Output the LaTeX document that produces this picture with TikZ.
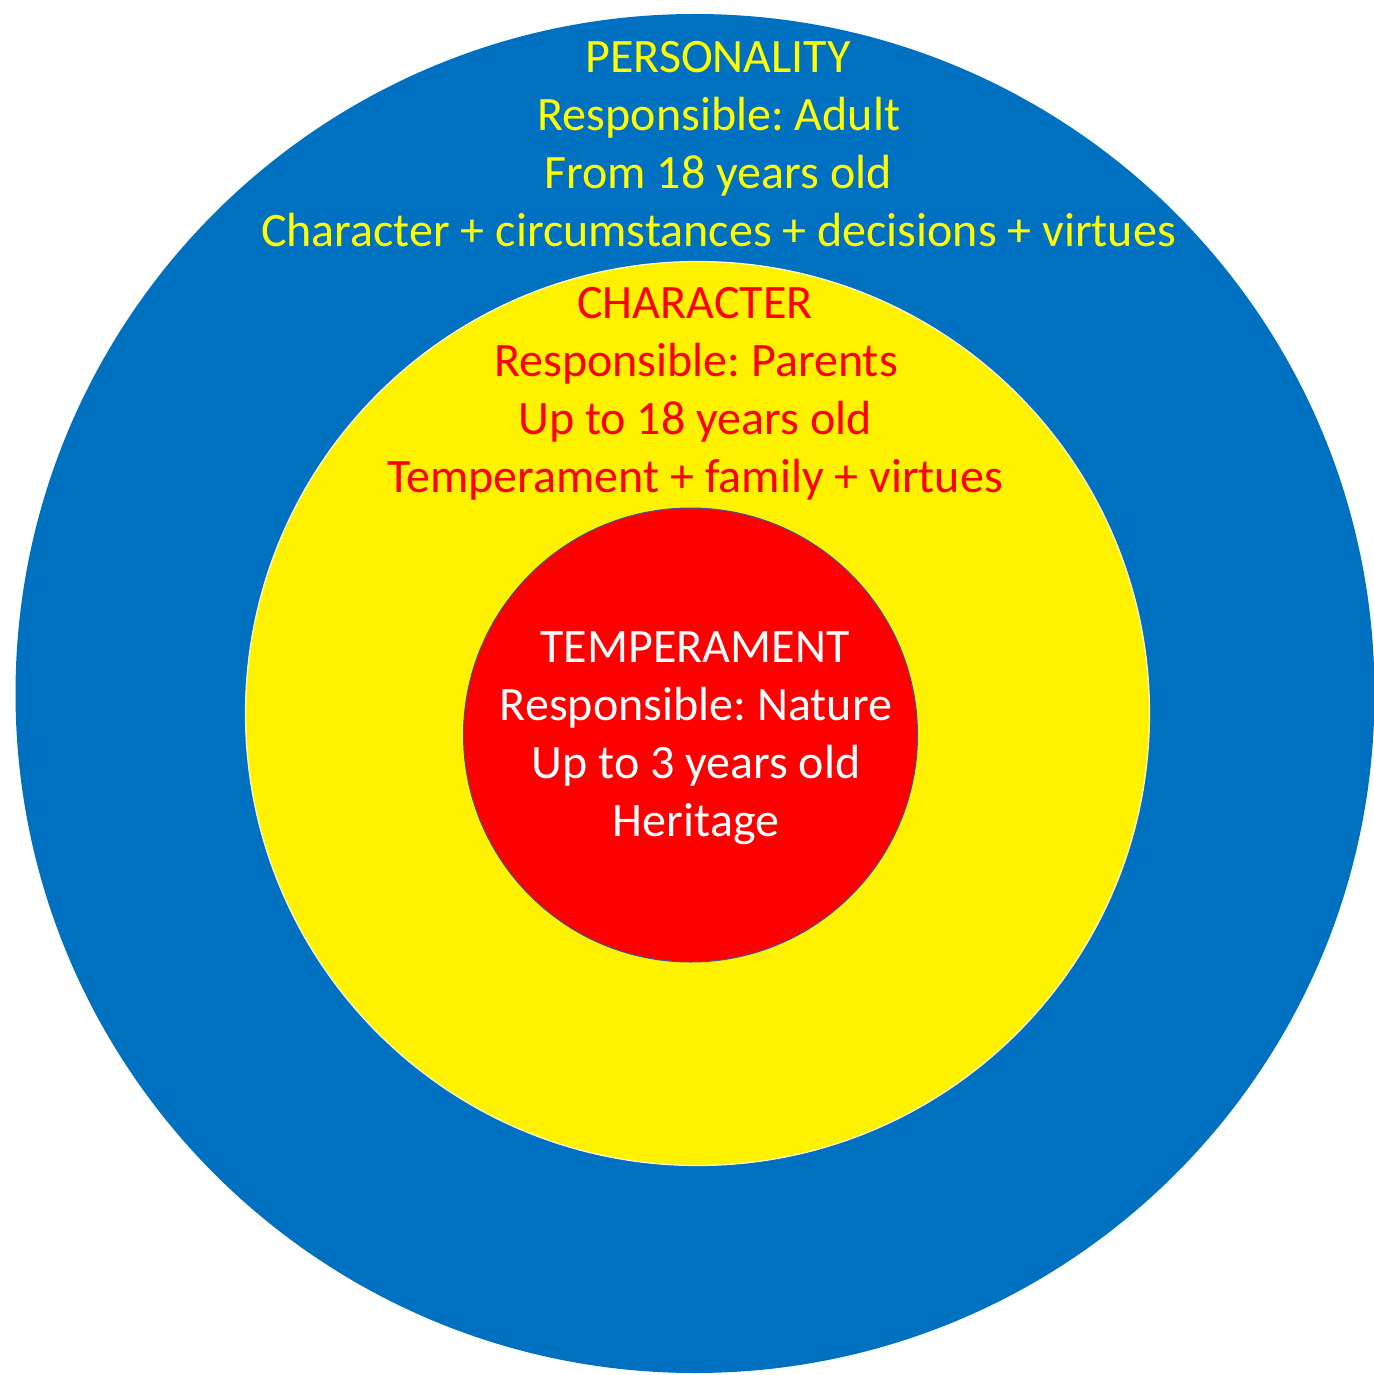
\documentclass[tikz,border=0pt]{standalone}
\usepackage{fontspec}
\setmainfont{Carlito}
\usepackage{tikz}
\definecolor{ringblue}{RGB}{0,112,192}
\definecolor{ringyellow}{RGB}{255,242,0}
\definecolor{ringred}{RGB}{255,0,0}
\definecolor{edgeblue}{RGB}{68,84,150}
\definecolor{textyellow}{RGB}{255,255,0}
\frenchspacing
\tikzset{
  lbl/.style={anchor=base,inner sep=0pt,font=\fontsize{24}{29}\selectfont},
}

\begin{document}
\begin{tikzpicture}[x=0.5pt,y=0.5pt,yscale=-1,xscale=1]
      \useasboundingbox (0,0) rectangle (1374,1375);
      % rings
      \fill [ringblue]   (695,693.5) circle (679.5);
      \draw [fill=ringyellow,draw=white!85!ringyellow,line width=0.6pt] (697.5,713.5) circle (452);
      \draw [fill=ringred,draw=edgeblue,line width=0.5pt] (690.5,735) circle (227);
      % personality
      \node (pers1) at (718,73)  [lbl,textyellow] {PERSONALITY};
      \node (pers2) at (719,131) [lbl,textyellow] {Responsible: Adult};
      \node (pers3) at (718,189) [lbl,textyellow] {From 18 years old};
      \node (pers4) at (718.5,247) [lbl,textyellow] {Character + circumstances + decisions + virtues};
      % character
      \node (char1) at (695,318) [lbl,ringred] {CHARACTER};
      \node (char2) at (696,376) [lbl,ringred] {Responsible: Parents};
      \node (char3) at (695,434) [lbl,ringred] {Up to 18 years old};
      \node (char4) at (695,492) [lbl,ringred] {Temperament + family + virtues};
      % temperament
      \node (temp1) at (695,662) [lbl,white] {TEMPERAMENT};
      \node (temp2) at (696,720) [lbl,white] {Responsible: Nature};
      \node (temp3) at (696,778) [lbl,white] {Up to 3 years old};
      \node (temp4) at (696,836) [lbl,white] {Heritage};
    \end{tikzpicture}
\end{document}
